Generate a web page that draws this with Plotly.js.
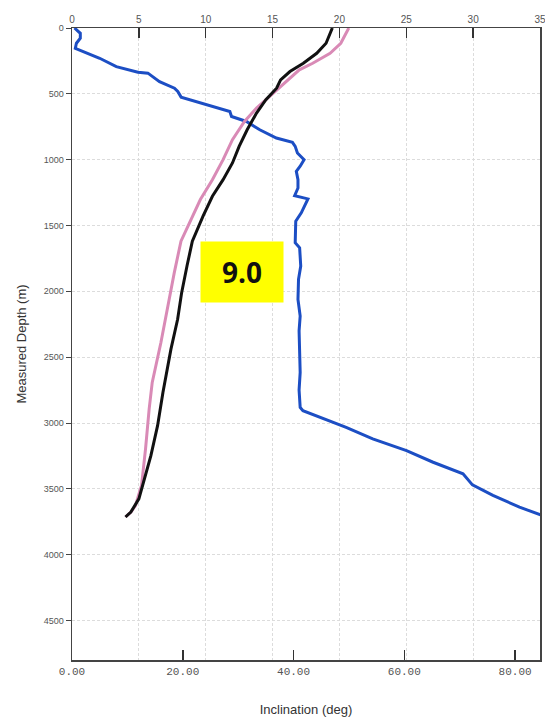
<!DOCTYPE html>
<html>
<head>
<meta charset="utf-8">
<script src="https://cdn.plot.ly/plotly-3.0.1.min.js"></script>
<style>html,body{margin:0;padding:0;background:#fff;}#chart{width:545px;height:728px;}</style>
</head>
<body>
<div id="chart"></div>
<script>
// Blue: inclination (deg), bottom axis
const blueDepth = [0, 40, 78, 116, 154, 179, 230, 293, 336, 343, 407, 457, 482, 525, 566, 596, 634, 672, 710, 773, 836, 869, 899, 949, 1000, 1050, 1089, 1152, 1215, 1273, 1298, 1404, 1467, 1631, 1669, 1808, 1909, 2061, 2187, 2300, 2465, 2616, 2750, 2881, 2907, 2957, 3033, 3121, 3210, 3298, 3386, 3470, 3550, 3639, 3702, 3720];
const blueIncl  = [0.45, 1.5, 1.5, 0.8, 0.6, 2.0, 5.0, 8.0, 11.9, 13.7, 15.8, 18.5, 19.1, 19.7, 23.0, 25.4, 28.5, 28.8, 31.5, 33.9, 36.9, 39.8, 40.3, 40.7, 41.9, 41.2, 40.5, 40.8, 40.8, 40.2, 42.6, 41.4, 40.4, 40.3, 41.1, 41.3, 40.9, 40.8, 41.2, 41.0, 41.1, 41.2, 41.0, 41.2, 41.7, 44.7, 49.5, 54.3, 60.4, 65.2, 70.6, 72.3, 76.0, 80.8, 84.8, 86.0];

// Black: top axis
const blackDepth = [0, 116, 192, 268, 331, 394, 457, 545, 646, 773, 899, 1025, 1152, 1278, 1429, 1619, 1808, 2010, 2212, 2439, 2768, 3020, 3248, 3424, 3576, 3677, 3714];
const blackVal   = [19.47, 19.0, 18.3, 17.3, 16.3, 15.6, 15.3, 14.5, 13.8, 13.1, 12.5, 12.0, 11.3, 10.5, 9.8, 9.0, 8.6, 8.2, 7.9, 7.4, 6.8, 6.4, 5.9, 5.4, 5.0, 4.4, 4.0];

// Pink: top axis
const pinkDepth = [0, 116, 192, 268, 318, 407, 495, 608, 710, 848, 1000, 1152, 1303, 1455, 1619, 1858, 2061, 2212, 2389, 2692, 2894, 3197, 3475, 3627, 3677, 3714];
const pinkVal   = [20.7, 20.1, 19.3, 18.0, 17.0, 16.0, 15.0, 13.8, 12.9, 12.0, 11.3, 10.5, 9.6, 8.9, 8.15, 7.65, 7.27, 6.97, 6.65, 6.0, 5.77, 5.5, 5.2, 4.75, 4.4, 4.0];

const bottomTicks = [0, 20, 40, 60, 80];
const topTicks = [0, 5, 10, 15, 20, 25, 30, 35];
const depthTicks = [0, 500, 1000, 1500, 2000, 2500, 3000, 3500, 4000, 4500];
const boxLabel = "9.0";

const traces = [
  {x: pinkVal, y: pinkDepth, xaxis: 'x2', yaxis: 'y', mode: 'lines', line: {color: '#d98ab6', width: 3}, hoverinfo: 'skip'},
  {x: blackVal, y: blackDepth, xaxis: 'x2', yaxis: 'y', mode: 'lines', line: {color: '#111111', width: 3}, hoverinfo: 'skip'},
  {x: blueIncl, y: blueDepth, xaxis: 'x', yaxis: 'y', mode: 'lines', line: {color: '#1c4ec4', width: 3}, hoverinfo: 'skip'}
];

const layout = {
  width: 545, height: 728,
  margin: {l: 72, r: 5, t: 28, b: 68},
  paper_bgcolor: '#ffffff', plot_bgcolor: '#ffffff',
  showlegend: false,
  font: {family: 'Liberation Sans, Arial, sans-serif', color: '#444'},
  xaxis: {
    range: [0, 84.5], side: 'bottom',
    tickvals: bottomTicks, tickformat: '.2f',
    ticks: 'inside', ticklen: 10, tickcolor: '#333', tickwidth: 1.5,
    showgrid: false, zeroline: false,
    showline: true, linecolor: '#444', linewidth: 1.5,
    tickfont: {family: 'Liberation Mono, Courier New, monospace', size: 11, color: '#555'},
    title: {text: 'Inclination (deg)', font: {size: 13, color: '#333'}, standoff: 28},
    automargin: false
  },
  xaxis2: {
    range: [0, 35], overlaying: 'x', side: 'top', anchor: 'y',
    tickvals: topTicks,
    ticks: 'inside', ticklen: 10, tickcolor: '#333', tickwidth: 1.5,
    showgrid: true, gridcolor: '#dcdcdc', griddash: '3px,2px', gridwidth: 1,
    zeroline: false, showline: true, linecolor: '#444', linewidth: 1.5,
    tickfont: {size: 10, color: '#555'},
    ticklabeloverflow: 'allow',
    automargin: false
  },
  yaxis: {
    range: [4800, 0],
    tickvals: depthTicks,
    ticks: 'outside', ticklen: 5, tickcolor: '#444',
    showgrid: true, gridcolor: '#dcdcdc', griddash: '3px,2px', gridwidth: 1,
    zeroline: false, showline: true, linecolor: '#444', linewidth: 1.5, mirror: true,
    tickfont: {size: 9, color: '#555'},
    title: {text: 'Measured Depth (m)', font: {size: 13, color: '#333'}, standoff: 14},
    automargin: false
  },
  annotations: [{
    x: 30.7, y: 1852, xref: 'x', yref: 'y',
    text: '<b>' + boxLabel + '</b>', showarrow: false,
    bgcolor: '#ffff00', width: 80, height: 58,
    font: {family: 'Open Sans, sans-serif', size: 28, color: '#111'},
    align: 'center', valign: 'middle'
  }]
};

Plotly.newPlot('chart', traces, layout, {displayModeBar: false, staticPlot: true});
</script>
</body>
</html>
